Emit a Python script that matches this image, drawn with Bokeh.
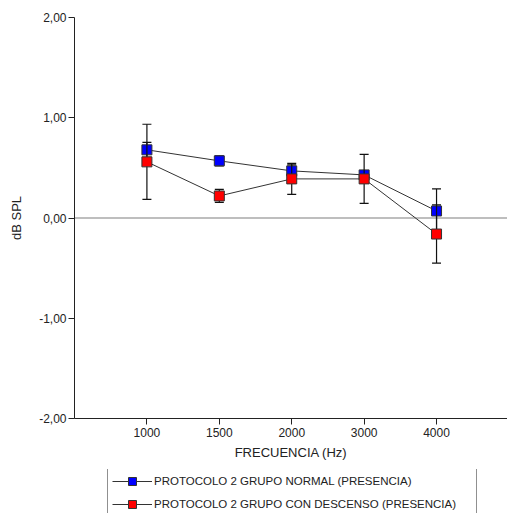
from bokeh.plotting import figure
from bokeh.layouts import column
from bokeh.models import FixedTicker, Range1d, Span, Legend, LegendItem
from bokeh.embed import file_html
from bokeh.resources import INLINE

frequencies = ["1000", "1500", "2000", "3000", "4000"]
normal_mean = [0.68, 0.57, 0.47, 0.43, 0.07]
normal_err = [0.075, 0.05, 0.06, 0.03, 0.22]
descenso_mean = [0.56, 0.22, 0.39, 0.39, -0.16]
descenso_err = [0.375, 0.065, 0.155, 0.245, 0.29]
y_ticks = [-2, -1, 0, 1, 2]
y_tick_labels = ["-2,00", "-1,00", "0,00", "1,00", "2,00"]
series_names = ["PROTOCOLO 2 GRUPO NORMAL (PRESENCIA)",
                "PROTOCOLO 2 GRUPO CON DESCENSO (PRESENCIA)"]
series_colors = ["#0000ff", "#ff0000"]

FONT = "Liberation Sans"
xs = list(range(len(frequencies)))
means = [normal_mean, descenso_mean]
errs = [normal_err, descenso_err]

p = figure(width=507, height=469, output_backend="svg", toolbar_location=None,
           x_range=Range1d(-1, 4.98), y_range=Range1d(-2, 2),
           min_border_left=74, min_border_right=0, min_border_top=17,
           min_border_bottom=51)
p.outline_line_color = None
p.grid.visible = False
p.background_fill_color = "white"
p.border_fill_color = "white"

zero = Span(location=0, dimension="width", line_color="#a8a8a8", line_width=1.5,
            level="underlay")
p.add_layout(zero)

for name, color, m, e in zip(series_names, series_colors, means, errs):
    lo = [a - b for a, b in zip(m, e)]
    hi = [a + b for a, b in zip(m, e)]
    p.line(xs, m, line_color="#333333", line_width=1)
    p.segment(xs, lo, xs, hi, line_color="#111111", line_width=1.2)
    p.scatter(xs, lo, marker="dash", size=9, line_color="#111111", line_width=1.2)
    p.scatter(xs, hi, marker="dash", size=9, line_color="#111111", line_width=1.2)
    p.scatter(xs, m, marker="square", size=10, fill_color=color,
              line_color="#333333", line_width=1)

p.xaxis.ticker = FixedTicker(ticks=xs)
p.xaxis.major_label_overrides = {x: f for x, f in zip(xs, frequencies)}
p.yaxis.ticker = FixedTicker(ticks=y_ticks)
p.yaxis.major_label_overrides = {t: l for t, l in zip(y_ticks, y_tick_labels)}
p.xaxis.axis_label = "FRECUENCIA (Hz)"
p.yaxis.axis_label = "dB SPL"
for ax in (p.xaxis, p.yaxis):
    ax.axis_line_color = "#222222"
    ax.axis_line_width = 1
    ax.major_tick_line_color = "#222222"
    ax.major_tick_in = 0
    ax.major_tick_out = 6
    ax.minor_tick_line_color = None
    ax.major_label_text_font = FONT
    ax.major_label_text_font_size = "12px"
    ax.major_label_text_color = "#222222"
    ax.axis_label_text_font = FONT
    ax.axis_label_text_font_size = "13px"
    ax.axis_label_text_font_style = "normal"
    ax.axis_label_text_color = "#222222"
p.xaxis.major_label_standoff = 3
p.xaxis.axis_label_standoff = 5
p.yaxis.major_label_standoff = 2
p.yaxis.axis_label_standoff = 12

# legend strip below the chart (its bottom edge is cut by the window, as in the reference)
# the strip's ranges keep its (legend-only) series out of view
q = figure(width=507, height=44, output_backend="svg", toolbar_location=None,
           x_range=Range1d(-100, -99), y_range=Range1d(-100, -99),
           min_border_left=0, min_border_right=0, min_border_top=0,
           min_border_bottom=0, x_axis_type=None, y_axis_type=None)
q.outline_line_color = None
q.grid.visible = False
items = []
for name, color, m in zip(series_names, series_colors, means):
    r1 = q.line(xs, m, line_color="#333333", line_width=1)
    r2 = q.scatter(xs, m, marker="square", size=10, fill_color=color,
                   line_color="#333333", line_width=1)
    items.append(LegendItem(label=name, renderers=[r1, r2], index=0))

lg = Legend(items=items, location=(33, -6))
lg.border_line_color = "#222222"
lg.border_line_width = 1
lg.background_fill_color = "white"
lg.background_fill_alpha = 1
lg.label_text_font = FONT
lg.label_text_font_size = "11.5px"
lg.label_text_color = "#222222"
lg.glyph_width = 40
lg.glyph_height = 20
lg.label_height = 20
lg.label_width = 318
lg.label_standoff = 2
lg.spacing = 3
lg.padding = 4
lg.margin = 0
q.add_layout(lg, "center")

layout = column(p, q, spacing=0)
open("out.html", "w").write(file_html(layout, INLINE))
